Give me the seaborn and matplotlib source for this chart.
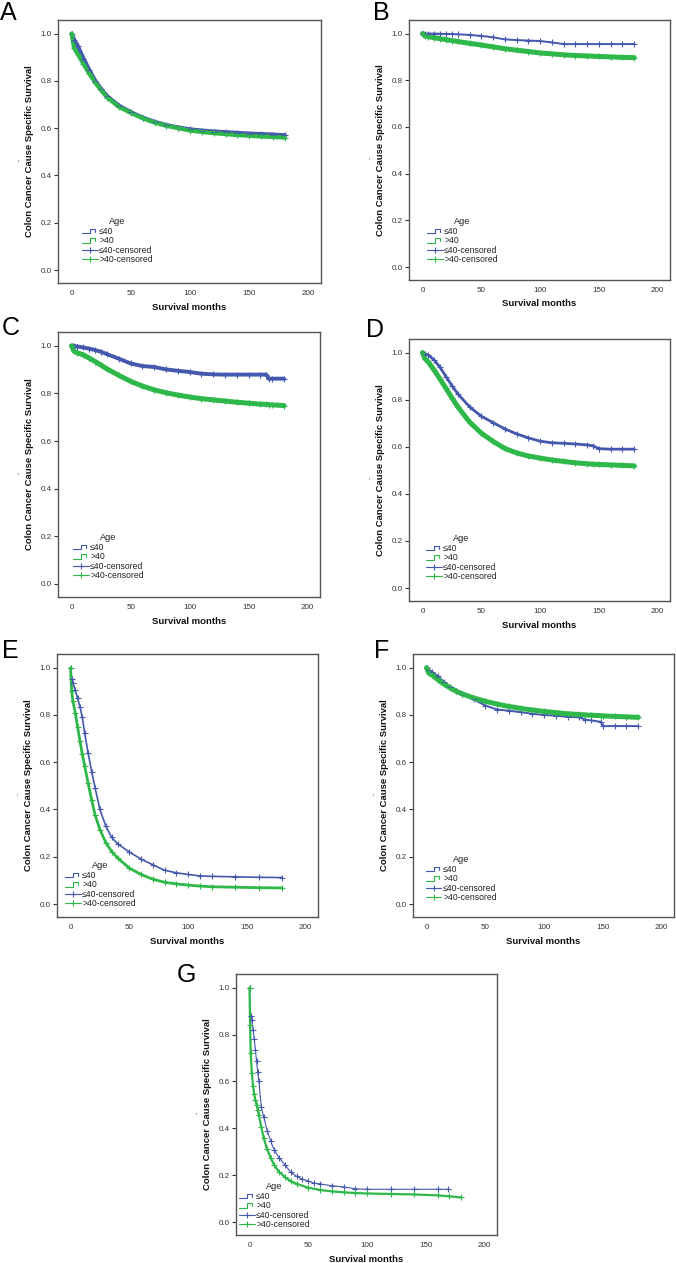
import numpy as np
import pandas as pd
import matplotlib
matplotlib.use("Agg")
import matplotlib.pyplot as plt
import seaborn as sns
from matplotlib.lines import Line2D
from matplotlib.legend_handler import HandlerBase

# ---------------- data ----------------
group_labels = ["≤40", ">40"]
legend_labels = ["≤40", ">40", "≤40-censored", ">40-censored"]
x_ticks = [0, 50, 100, 150, 200]
y_ticks = [0.0, 0.2, 0.4, 0.6, 0.8, 1.0]
panel_letters = ["A", "B", "C", "D", "E", "F", "G"]

A_months = [0, 2, 5, 10, 15, 20, 25, 30, 40, 50, 60, 70, 80, 90, 100, 110, 120, 130, 140, 150, 160, 170, 180]
A_le40 = [1.0, 0.975, 0.95, 0.895, 0.845, 0.80, 0.765, 0.735, 0.695, 0.668, 0.645, 0.627, 0.613, 0.603, 0.595,
          0.59, 0.586, 0.583, 0.58, 0.577, 0.575, 0.573, 0.57]
A_gt40 = [1.0, 0.94, 0.915, 0.872, 0.83, 0.793, 0.76, 0.73, 0.69, 0.665, 0.642, 0.624, 0.61, 0.60, 0.59,
          0.584, 0.579, 0.575, 0.571, 0.568, 0.565, 0.563, 0.56]

B_months = [0, 2, 5, 10, 15, 20, 25, 30, 40, 50, 60, 70, 80, 90, 100, 110, 120, 130, 140, 150, 160, 170, 180]
B_le40 = [1.0, 1.0, 1.0, 1.0, 0.999, 0.998, 0.998, 0.997, 0.994, 0.99, 0.984, 0.975, 0.972, 0.97, 0.968,
          0.962, 0.955, 0.955, 0.955, 0.955, 0.955, 0.955, 0.955]
B_gt40 = [1.0, 0.99, 0.987, 0.982, 0.978, 0.974, 0.97, 0.966, 0.958, 0.951, 0.943, 0.935, 0.929, 0.923, 0.917,
          0.913, 0.909, 0.906, 0.904, 0.902, 0.90, 0.898, 0.897]

C_months = [0, 2, 5, 10, 15, 20, 25, 30, 40, 50, 60, 70, 80, 90, 100, 110, 120, 130, 140, 150, 160, 165, 167, 170, 180]
C_le40 = [1.0, 1.0, 0.997, 0.993, 0.988, 0.982, 0.975, 0.965, 0.946, 0.926, 0.915, 0.911, 0.901, 0.895, 0.89,
          0.883, 0.88, 0.879, 0.879, 0.879, 0.879, 0.879, 0.862, 0.862, 0.862]
C_gt40 = [1.0, 0.978, 0.97, 0.962, 0.948, 0.934, 0.919, 0.903, 0.876, 0.851, 0.831, 0.815, 0.803, 0.793, 0.785,
          0.778, 0.773, 0.768, 0.763, 0.759, 0.755, 0.754, 0.753, 0.752, 0.749]

D_months = [0, 2, 5, 10, 15, 20, 25, 30, 40, 50, 60, 70, 80, 90, 100, 110, 120, 130, 140, 145, 150, 160, 170, 180]
D_le40 = [1.0, 0.995, 0.99, 0.968, 0.937, 0.898, 0.86, 0.825, 0.77, 0.73, 0.703, 0.676, 0.655, 0.638, 0.624,
          0.617, 0.615, 0.612, 0.608, 0.604, 0.592, 0.59, 0.59, 0.59]
D_gt40 = [1.0, 0.975, 0.96, 0.925, 0.887, 0.848, 0.808, 0.77, 0.705, 0.658, 0.623, 0.593, 0.574, 0.561, 0.552,
          0.544, 0.538, 0.532, 0.528, 0.526, 0.525, 0.523, 0.521, 0.519]

E_months = [0, 1, 2, 4, 6, 8, 10, 12, 15, 18, 21, 25, 30, 35, 40, 50, 60, 70, 80, 90, 100, 110, 120, 140, 160, 180]
E_le40 = [1.0, 0.952, 0.935, 0.906, 0.87, 0.835, 0.79, 0.725, 0.637, 0.56, 0.49, 0.40, 0.33, 0.282, 0.255, 0.22,
          0.19, 0.166, 0.143, 0.132, 0.125, 0.119, 0.117, 0.115, 0.113, 0.112]
E_gt40 = [1.0, 0.90, 0.86, 0.81, 0.75, 0.69, 0.635, 0.585, 0.51, 0.44, 0.375, 0.315, 0.26, 0.222, 0.195, 0.152,
          0.125, 0.105, 0.092, 0.085, 0.08, 0.076, 0.073, 0.071, 0.069, 0.068]

F_months = [0, 2, 5, 10, 15, 20, 25, 30, 40, 50, 60, 70, 80, 90, 100, 110, 120, 130, 135, 140, 148, 150, 160, 170, 180]
F_le40 = [1.0, 0.99, 0.982, 0.963, 0.94, 0.92, 0.903, 0.89, 0.866, 0.84, 0.823, 0.818, 0.812, 0.805, 0.80,
          0.797, 0.792, 0.79, 0.78, 0.777, 0.771, 0.753, 0.753, 0.753, 0.753]
F_gt40 = [1.0, 0.977, 0.968, 0.948, 0.93, 0.915, 0.901, 0.89, 0.872, 0.858, 0.846, 0.836, 0.828, 0.821, 0.815,
          0.81, 0.805, 0.802, 0.80, 0.799, 0.797, 0.796, 0.794, 0.792, 0.79]

G_le40_months = [0, 1, 2, 3, 4, 5, 6, 7, 8, 10, 12, 15, 18, 21, 25, 30, 35, 40, 45, 50, 55, 60, 70, 80, 90, 100,
                 120, 140, 160, 169]
G_le40 = [1.0, 0.88, 0.86, 0.82, 0.78, 0.735, 0.685, 0.638, 0.60, 0.49, 0.45, 0.39, 0.345, 0.308, 0.275, 0.245,
          0.213, 0.195, 0.183, 0.175, 0.166, 0.163, 0.155, 0.15, 0.142, 0.14, 0.14, 0.14, 0.14, 0.14]
G_gt40_months = [0, 0.5, 1, 2, 3, 4, 5, 6, 7, 8, 10, 12, 15, 18, 21, 25, 30, 35, 40, 50, 60, 70, 80, 90, 100,
                 120, 140, 160, 170, 180]
G_gt40 = [1.0, 0.84, 0.72, 0.634, 0.58, 0.545, 0.52, 0.50, 0.48, 0.455, 0.405, 0.36, 0.31, 0.275, 0.243, 0.215,
          0.193, 0.174, 0.163, 0.147, 0.137, 0.131, 0.127, 0.124, 0.122, 0.12, 0.118, 0.114, 0.11, 0.105]

panel_data = {
    "A": (A_months, A_le40, A_months, A_gt40),
    "B": (B_months, B_le40, B_months, B_gt40),
    "C": (C_months, C_le40, C_months, C_gt40),
    "D": (D_months, D_le40, D_months, D_gt40),
    "E": (E_months, E_le40, E_months, E_gt40),
    "F": (F_months, F_le40, F_months, F_gt40),
    "G": (G_le40_months, G_le40, G_gt40_months, G_gt40),
}

# ---------------- style ----------------
W, H = 676, 1263
BLUE = "#4458ae"
GREEN = "#2fb84a"
boxes = {
    "A": (58, 20, 321, 283),
    "B": (409, 20, 670, 280),
    "C": (58, 332, 320, 597),
    "D": (409, 339, 670, 601),
    "E": (57, 654, 318, 917),
    "F": (413, 654, 674, 917),
    "G": (236, 974, 497, 1235),
}
letter_pos = {"A": (0, 20), "B": (373, 20), "C": (2, 335), "D": (366, 337),
              "E": (2, 658), "F": (374, 658), "G": (177, 982)}
lws = {"A": (3.0, 3.0), "B": (1.4, 3.6), "C": (2.8, 3.6), "D": (2.0, 3.6),
       "E": (1.2, 2.0), "F": (1.4, 3.6), "G": (0.8, 1.6)}
leg_off = {"A": (24, 19), "B": (18, 16), "C": (15, 17), "D": (17, 20),
           "E": (8, 9), "F": (13, 15), "G": (3, 6)}

sns.set_theme(style="white")
plt.rcParams['font.family'] = ['Liberation Sans', 'DejaVu Sans']


class StepHandler(HandlerBase):
    def create_artists(self, legend, orig_handle, xdescent, ydescent, width, height, fontsize, trans):
        x0, y0 = -xdescent, -ydescent
        xs = [x0, x0 + 0.5 * width, x0 + 0.5 * width, x0 + 0.85 * width, x0 + 0.85 * width]
        ys = [y0 + 0.1 * height, y0 + 0.1 * height, y0 + 0.85 * height, y0 + 0.85 * height, y0 + 0.35 * height]
        ln = Line2D(xs, ys, color=orig_handle.get_color(), lw=0.8)
        ln.set_transform(trans)
        return [ln]


fig = plt.figure(figsize=(W / 100, H / 100), dpi=100)

for key in panel_letters:
    l, t, r, b = boxes[key]
    ax = fig.add_axes([l / W, 1 - b / H, (r - l) / W, (b - t) / H])
    t1, s1, t2, s2 = panel_data[key]
    df = pd.concat([
        pd.DataFrame({"month": t1, "surv": s1, "Age": group_labels[0]}),
        pd.DataFrame({"month": t2, "surv": s2, "Age": group_labels[1]}),
    ], ignore_index=True)
    for grp, col, lw in zip(group_labels, [BLUE, GREEN], lws[key]):
        sub = df[df["Age"] == grp]
        sns.lineplot(data=sub, x="month", y="surv", color=col, lw=lw, estimator=None, sort=False,
                     ax=ax, legend=False)
        sns.scatterplot(data=sub, x="month", y="surv", color=col, marker="+", s=18, linewidth=0.8,
                        ax=ax, legend=False, zorder=3)

    ax.set_xlim(-11.5, 210.5)
    ax.set_ylim(-0.055, 1.058)
    ax.set_xticks(x_ticks)
    ax.set_xticklabels([str(v) for v in x_ticks])
    ax.set_yticks(y_ticks)
    ax.set_yticklabels([f"{v:.1f}" for v in y_ticks])
    ax.tick_params(axis="x", length=0, pad=5, labelsize=5.8, colors="#333333")
    ax.tick_params(axis="y", length=3, width=0.8, pad=1.5, labelsize=5.8, colors="#333333", left=True)
    for sp in ax.spines.values():
        sp.set_color("#555555")
        sp.set_linewidth(1.0)
    ax.set_xlabel("Survival months", fontsize=6.8, fontweight="bold", labelpad=4, color="#111111")
    ax.set_ylabel("Colon Cancer Cause Specific Survival", fontsize=6.8, fontweight="bold", labelpad=5,
                  color="#111111")
    ax.text(-39 / (r - l), 0.47, "-", rotation=90, transform=ax.transAxes, fontsize=5,
            color="#555555", ha="center", va="center")

    h_step1 = Line2D([], [], color=BLUE)
    h_step2 = Line2D([], [], color=GREEN)
    h_c1 = Line2D([], [], color=BLUE, lw=0.8, marker="+", markersize=5, markeredgewidth=0.8)
    h_c2 = Line2D([], [], color=GREEN, lw=0.8, marker="+", markersize=5, markeredgewidth=0.8)
    ox, oy = leg_off[key]
    leg = ax.legend([h_step1, h_step2, h_c1, h_c2], legend_labels, title="Age",
                    handler_map={h_step1: StepHandler(), h_step2: StepHandler()},
                    loc="lower left", bbox_to_anchor=(ox / (r - l), oy / (b - t)),
                    frameon=False, fontsize=6.2, title_fontsize=6.6, borderpad=0,
                    labelspacing=0.05, handlelength=1.8, handletextpad=0.2, numpoints=1,
                    borderaxespad=0)
    for txt in leg.get_texts():
        txt.set_color("#222222")
    leg.get_title().set_color("#222222")

    lx, ly = letter_pos[key]
    fig.text(lx / W, 1 - ly / H, key, fontsize=18, ha="left", va="baseline", color="black")

fig.savefig("out.png", dpi=100)
